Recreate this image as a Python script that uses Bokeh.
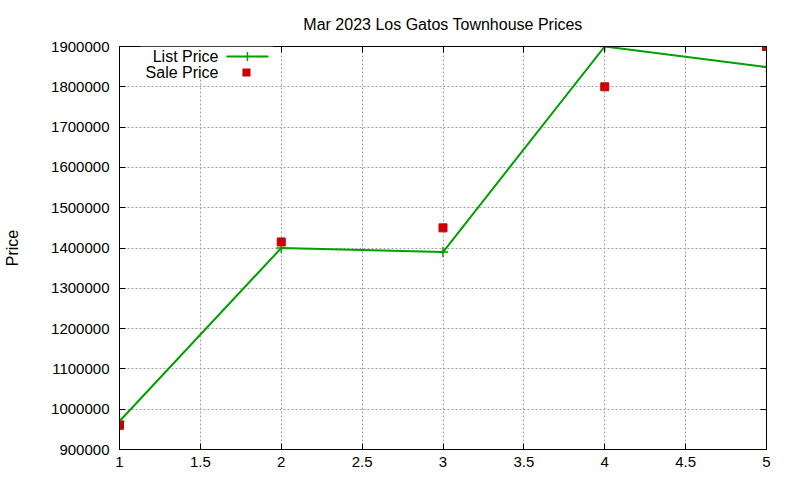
from bokeh.plotting import figure
from bokeh.models import (Range1d, FixedTicker, LinearAxis, Label, Arrow,
                          BoxAnnotation)
from bokeh.embed import file_html
from bokeh.resources import INLINE

# data
positions = [1, 2, 3, 4, 5]
list_price = [970000, 1400000, 1390000, 1900000, 1849000]
sale_price = [960000, 1415000, 1450000, 1800000, 1900000]

x_ticks = [1, 1.5, 2, 2.5, 3, 3.5, 4, 4.5, 5]
x_tick_labels = ["1", "1.5", "2", "2.5", "3", "3.5", "4", "4.5", "5"]
y_ticks = [900000, 1000000, 1100000, 1200000, 1300000, 1400000,
           1500000, 1600000, 1700000, 1800000, 1900000]

FONT = "Liberation Sans"
FS = "15px"
GREEN = "#00a000"
RED = "#cc0000"

p = figure(width=792, height=476, output_backend="svg", toolbar_location=None,
           x_range=Range1d(1, 5), y_range=Range1d(900000, 1900000),
           title="Mar 2023 Los Gatos Townhouse Prices")
p.min_border_left = 119
p.min_border_right = 26
p.min_border_top = 45
p.min_border_bottom = 27

p.title.align = "center"
p.title.text_font = FONT
p.title.text_font_size = "16px"
p.title.text_font_style = "normal"
p.title.text_color = "black"
p.title.standoff = 27

p.outline_line_color = "black"
p.outline_line_width = 1
p.outline_line_alpha = 1

# axes
p.xaxis.ticker = FixedTicker(ticks=x_ticks)
p.xaxis.major_label_overrides = dict(zip(x_ticks, x_tick_labels))
p.yaxis.ticker = FixedTicker(ticks=y_ticks)
p.yaxis.major_label_overrides = {t: str(t) for t in y_ticks}
p.yaxis.axis_label = "Price"
p.yaxis.axis_label_standoff = 27
p.yaxis.axis_label_text_font_style = "normal"

for ax in (p.xaxis[0], p.yaxis[0]):
    ax.major_tick_in = 6
    ax.major_tick_out = 0
    ax.minor_tick_line_color = None
    ax.axis_line_color = "black"
    ax.major_tick_line_color = "black"
    ax.major_label_text_font = FONT
    ax.major_label_text_font_size = FS
    ax.major_label_text_color = "black"
    ax.axis_label_text_font = FONT
    ax.axis_label_text_font_size = "16px"
    ax.axis_label_text_color = "black"
p.xaxis.major_label_standoff = 7
p.yaxis.major_label_standoff = 10

# mirrored ticks on top and right
top = LinearAxis(ticker=FixedTicker(ticks=x_ticks), major_tick_in=6,
                 major_tick_out=0, minor_tick_line_color=None,
                 major_label_overrides={t: "" for t in x_ticks},
                 major_label_standoff=0)
right = LinearAxis(ticker=FixedTicker(ticks=y_ticks), major_tick_in=6,
                   major_tick_out=0, minor_tick_line_color=None,
                   major_label_overrides={t: "" for t in y_ticks},
                   major_label_standoff=0)
p.add_layout(top, "above")
p.add_layout(right, "right")

# grid
p.xgrid.ticker = FixedTicker(ticks=x_ticks)
p.ygrid.ticker = FixedTicker(ticks=y_ticks)
for g in (p.xgrid[0], p.ygrid[0]):
    g.grid_line_color = "#a0a0a0"
    g.grid_line_dash = "2 2"
    g.grid_line_width = 1

# series
p.line(positions, list_price, line_color=GREEN, line_width=2)
p.scatter(positions, list_price, marker="cross", size=10, line_color=GREEN,
          line_width=1.5)
p.scatter(positions, sale_price, marker="square", size=8, fill_color=RED,
          line_color=RED)

# legend (gnuplot style: label left, sample right)
p.add_layout(BoxAnnotation(left=1.13, right=1.95, top=1900000, bottom=1819000,
                           fill_color="white", fill_alpha=1, line_color=None))
p.add_layout(Label(x=1.612, y=1875250, text="List Price", text_align="right",
                   text_baseline="middle", text_font=FONT,
                   text_font_size="16px", text_color="black"))
p.add_layout(Label(x=1.612, y=1835650, text="Sale Price", text_align="right",
                   text_baseline="middle", text_font=FONT,
                   text_font_size="16px", text_color="black"))
p.add_layout(Arrow(x_start=1.6615, y_start=1875250, x_end=1.921, y_end=1875250,
                   start=None, end=None, line_color=GREEN, line_width=2))
p.add_layout(Arrow(x_start=1.791, y_start=1864100, x_end=1.791, y_end=1886400,
                   start=None, end=None, line_color=GREEN, line_width=1.5))
p.add_layout(BoxAnnotation(left=1.760, right=1.810, top=1845550, bottom=1825750,
                           fill_color=RED, fill_alpha=1, line_color=None))

open("out.html", "w").write(file_html(p, INLINE))
